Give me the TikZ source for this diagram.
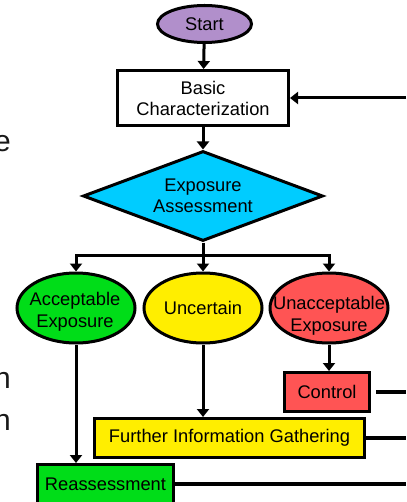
\documentclass[tikz,border=0pt]{standalone}
\usepackage{fontspec}
\setmainfont{Liberation Sans}
\usepackage{xcolor}
\usepackage{tikz}
\usetikzlibrary{shapes.geometric,arrows.meta,positioning}
\definecolor{lilac}{HTML}{B18FCB}
\definecolor{sky}{HTML}{00CCFF}
\definecolor{okgreen}{HTML}{00DD18}
\definecolor{warn}{HTML}{FFEE00}
\definecolor{bad}{HTML}{FF5454}
\tikzset{
  box/.style={draw=black, line width=3pt, rectangle, inner sep=0pt, font=\fontsize{18.3}{21}\selectfont, align=center},
  oval/.style={draw=black, line width=3pt, ellipse, inner sep=0pt, font=\fontsize{18.3}{21}\selectfont},
  decide/.style={draw=black, line width=3pt, diamond, aspect=2.66, inner sep=0pt, font=\fontsize{18.3}{21}\selectfont, align=center},
  lab/.style={font=\fontsize{18.3}{22}\selectfont, align=center, inner sep=0pt},
  link/.style={draw=black, line width=3pt},
  rimlink/.style={draw=black, line width=4pt},
  arr/.style={link, -{Triangle[length=8pt,width=12pt]}},
  frag/.style={text=black!90, font=\fontsize{30}{36}\selectfont, inner sep=0pt},
}
\begin{document}
\begin{tikzpicture}[x=1pt,y=-1pt]
  \useasboundingbox (0,0) rectangle (406,502);
  \coordinate (rim) at (406,0);
  \coordinate (split) at (203,255);
  % cut-off slide text on the left
  \node[frag,anchor=base east] (frag-e) at (11,152) {e};
  \node[frag,anchor=base east] (frag-n1) at (11,388) {n};
  \node[frag,anchor=base east] (frag-n2) at (11,430) {n};
  \node[oval,fill=lilac,minimum width=94pt,minimum height=37pt] (start) at (204.5,24) {Start};
  \node[box,fill=white,minimum width=171pt,minimum height=55pt] (basic) at (203,98) {Basic\\Characterization};
  \node[decide,fill=sky,minimum width=240pt,minimum height=90pt] (assess) at (203,196) {Exposure\\Assessment};
  \node[oval,fill=okgreen,minimum width=118pt,minimum height=70pt] (accept) at (76,308) {};
  \node[lab] (accept-txt) at (75,312) {Acceptable\\Exposure};
  \node[oval,fill=warn,minimum width=118pt,minimum height=70pt] (uncert) at (203,308) {Uncertain};
  \node[oval,fill=bad,minimum width=118pt,minimum height=70pt] (unaccept) at (329,308) {};
  \node[lab] (unaccept-txt) at (329,316) {Unacceptable\\Exposure};
  \node[box,fill=bad,minimum width=85pt,minimum height=39pt] (control) at (327,392) {Control};
  \node[box,fill=warn,minimum width=270pt,minimum height=39pt] (further) at (229.5,438) {Further Information Gathering};
  \node[box,fill=okgreen,minimum width=136pt,minimum height=39pt] (reassess) at (105.5,484) {Reassessment};
  \draw[arr] (start) -- (basic);
  \draw[arr] (basic.east -| rim) -- (basic.east);
  \draw[arr] (basic) -- (assess);
  \draw[link] (assess) -- (split);
  \draw[arr] (split) -| (accept);
  \draw[arr] (split) -- (uncert);
  \draw[arr] (split) -| (unaccept);
  \draw[arr] (accept) -- (accept |- reassess.north);
  \draw[arr] (uncert) -- (uncert |- further.north);
  \draw[arr] (unaccept) -- (unaccept |- control.north);
  \draw[rimlink] ([xshift=5pt]control.east) -- (control.east -| rim);
  \draw[rimlink] (further.east) -- (further.east -| rim);
  \draw[rimlink] (reassess.east) -- (reassess.east -| rim);
\end{tikzpicture}
\end{document}
